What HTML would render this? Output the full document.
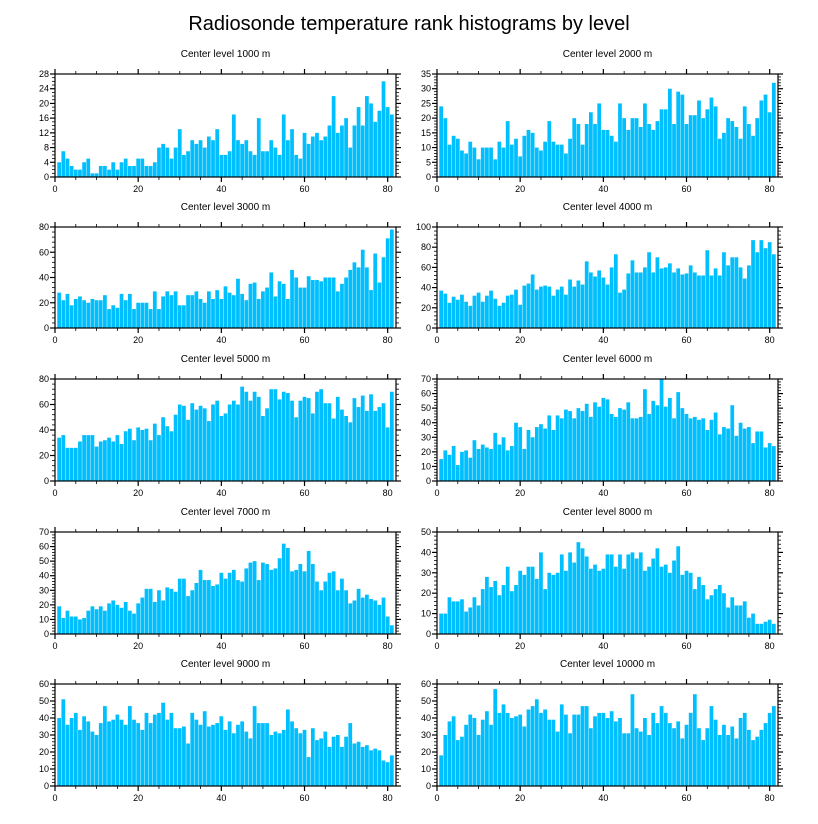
<!DOCTYPE html>
<html><head><meta charset="utf-8"><style>
body{margin:0;background:#fff;}
svg{display:block;font-family:"Liberation Sans",sans-serif;}
</style></head><body>
<svg id="chart" width="818" height="824">
<text x="409" y="30" font-size="20" text-anchor="middle">Radiosonde temperature rank histograms by level</text>
</svg>
<script>
const levelTitles = ["Center level 1000 m","Center level 2000 m","Center level 3000 m","Center level 4000 m","Center level 5000 m","Center level 6000 m","Center level 7000 m","Center level 8000 m","Center level 9000 m","Center level 10000 m"];
const yMax = [28,35,80,100,80,70,70,50,60,60];
const yStep = [4,5,20,20,20,10,10,10,10,10];
const yMinor = [1,1,4,4,4,2,2,2,2,2];
const xTicks = [0,20,40,60,80];
const counts1000 = [4,7,5,3,2,2,4,5,1,1,3,3,2,4,2,4,5,3,3,5,5,3,3,4,8,9,8,5,8,13,6,7,10,9,10,8,11,10,13,6,6,7,17,10,9,10,7,6,16,7,7,10,8,6,17,10,13,6,5,12,9,11,12,10,11,14,22,12,14,16,8,14,19,14,22,20,15,18,26,19,17];
const counts2000 = [24,20,11,14,13,9,8,12,10,6,10,10,10,6,12,10,19,11,13,7,14,16,15,10,9,12,19,12,11,11,8,13,20,18,11,18,22,18,25,16,16,14,12,25,20,16,20,20,17,25,18,16,19,23,23,30,18,29,28,18,21,21,26,20,23,27,24,13,15,20,19,17,13,24,18,14,20,26,28,22,32];
const counts3000 = [28,22,27,18,23,25,22,20,23,22,22,26,15,18,16,27,22,27,15,20,20,20,15,29,15,25,29,26,29,18,18,26,26,29,23,20,29,23,30,23,33,28,26,39,27,22,35,36,23,29,32,44,25,37,35,23,46,40,32,32,41,38,38,37,40,40,40,29,35,40,46,52,48,62,48,30,59,36,56,71,78];
const counts4000 = [37,34,25,31,28,33,26,22,32,35,26,32,37,29,22,25,32,33,38,23,42,44,53,38,41,42,41,32,38,41,33,48,41,47,43,66,55,51,57,50,43,60,73,35,38,54,67,55,55,60,75,55,70,59,60,64,55,59,53,54,62,55,52,52,77,52,59,52,75,62,70,70,60,49,62,87,75,87,79,85,73];
const counts5000 = [34,36,26,26,26,31,36,36,36,27,31,32,34,31,36,29,39,41,32,42,40,41,32,45,36,50,43,39,52,60,59,48,61,56,59,57,47,60,63,51,53,60,63,60,74,70,63,70,66,51,57,72,72,64,70,69,63,50,63,66,65,53,70,72,61,61,49,66,56,51,46,65,58,67,55,68,55,58,61,42,70];
const counts6000 = [15,21,18,24,11,20,21,16,28,22,25,23,22,33,25,30,21,24,40,37,22,35,30,37,39,36,45,35,45,43,49,48,43,50,48,53,44,54,51,57,56,46,44,50,49,54,43,43,44,63,46,55,52,70,51,57,43,61,50,46,43,44,42,43,35,42,47,32,37,36,52,31,40,36,37,26,34,34,23,26,24];
const counts7000 = [19,11,16,12,12,10,11,16,19,17,19,16,21,23,20,18,22,16,14,21,25,31,31,22,30,23,32,31,29,38,38,26,30,35,44,37,37,33,34,42,38,42,44,37,36,45,49,50,37,49,48,44,45,52,62,59,43,44,48,43,57,48,36,30,36,42,43,30,38,30,21,23,31,25,27,24,23,20,25,12,6];
const counts8000 = [10,10,18,16,16,17,11,13,18,14,22,28,23,26,19,24,33,21,24,31,29,33,33,27,40,22,30,29,30,39,31,40,35,45,42,38,32,34,31,32,39,39,33,39,32,39,40,37,40,31,33,37,42,33,34,30,36,43,29,31,30,22,28,24,17,19,22,24,20,13,18,14,14,16,8,10,5,5,6,7,5];
const counts9000 = [40,51,36,40,43,33,41,38,32,30,37,47,38,39,42,39,36,47,39,37,33,43,37,42,43,49,39,43,34,34,35,25,43,39,36,44,35,36,37,41,33,38,31,36,38,32,28,47,37,37,37,30,32,31,33,45,38,34,31,33,17,34,27,28,32,23,29,30,23,29,37,25,26,23,24,21,22,21,15,14,18];
const counts10000 = [18,30,38,41,27,29,36,42,40,30,39,44,36,57,43,48,43,40,41,42,35,45,47,51,43,45,39,39,32,48,42,31,42,42,47,47,34,41,43,43,40,44,38,40,31,31,54,34,32,40,30,43,37,47,43,37,34,38,28,36,43,54,34,27,34,47,39,30,36,30,35,28,40,43,33,27,29,33,37,43,47];
const allCounts = [counts1000,counts2000,counts3000,counts4000,counts5000,counts6000,counts7000,counts8000,counts9000,counts10000];

const NS = "http://www.w3.org/2000/svg";
const svg = document.getElementById('chart');
const colX = [55, 437];
const plotW = 341;
const rowY = [[74,177],[227,328],[379,481],[532,634],[684,786]];
const xMax = 82;

function mk(tag, attrs, parent){
  const e = document.createElementNS(NS, tag);
  for (const k in attrs) e.setAttribute(k, attrs[k]);
  (parent||svg).appendChild(e);
  return e;
}

allCounts.forEach((counts, p) => {
  const col = p % 2, row = Math.floor(p / 2);
  const x0 = colX[col], x1 = x0 + plotW;
  const yT = rowY[row][0], yB = rowY[row][1];
  const sx = v => x0 + v / xMax * (x1 - x0);
  const sy = v => yB - v / yMax[p] * (yB - yT);
  const g = mk('g', {});
  
  

  const t = mk('text', {x: (x0 + x1) / 2, y: yT - 17, 'font-size': 10, 'text-anchor': 'middle'}, g);
  t.textContent = levelTitles[p];
  
  

  counts.forEach((v, i) => {
    const c = i + 1;
    const r = mk('rect', {x: sx(c - 0.45), y: sy(v), width: sx(c + 0.45) - sx(c - 0.45), height: yB - sy(v), fill: '#00bfff'}, g);
    
    
  });

  // frame
  const f = mk('rect', {x: x0, y: yT, width: x1 - x0, height: yB - yT, fill: 'none', stroke: '#000', 'stroke-width': 1.2}, g);
  
  

  // x ticks
  for (let v = 0; v <= xMax; v += 5) {
    const major = v % 20 === 0;
    const L = major ? 5 : 3;
    mk('line', {x1: sx(v), x2: sx(v), y1: yB, y2: yB + L, stroke: '#000', 'stroke-width': major ? 1.2 : 0.8}, g);
    mk('line', {x1: sx(v), x2: sx(v), y1: yT, y2: yT - L, stroke: '#000', 'stroke-width': major ? 1.2 : 0.8}, g);
  }
  xTicks.forEach(v => {
    const l = mk('text', {x: sx(v), y: yB + 15, 'font-size': 9, 'text-anchor': 'middle'}, g);
    l.textContent = v;
    
    
  });
  // y ticks
  for (let v = 0; v <= yMax[p] + 1e-9; v += yMinor[p]) {
    const major = Math.abs(v / yStep[p] - Math.round(v / yStep[p])) < 1e-9;
    const L = major ? 5 : 3;
    mk('line', {x1: x0, x2: x0 - L, y1: sy(v), y2: sy(v), stroke: '#000', 'stroke-width': major ? 1.2 : 0.8}, g);
    mk('line', {x1: x1, x2: x1 + L, y1: sy(v), y2: sy(v), stroke: '#000', 'stroke-width': major ? 1.2 : 0.8}, g);
  }
  for (let v = 0; v <= yMax[p] + 1e-9; v += yStep[p]) {
    const l = mk('text', {x: x0 - 6, y: sy(v) + 3, 'font-size': 9, 'text-anchor': 'end'}, g);
    l.textContent = v;
    
    
  }
});
</script>
</body></html>
